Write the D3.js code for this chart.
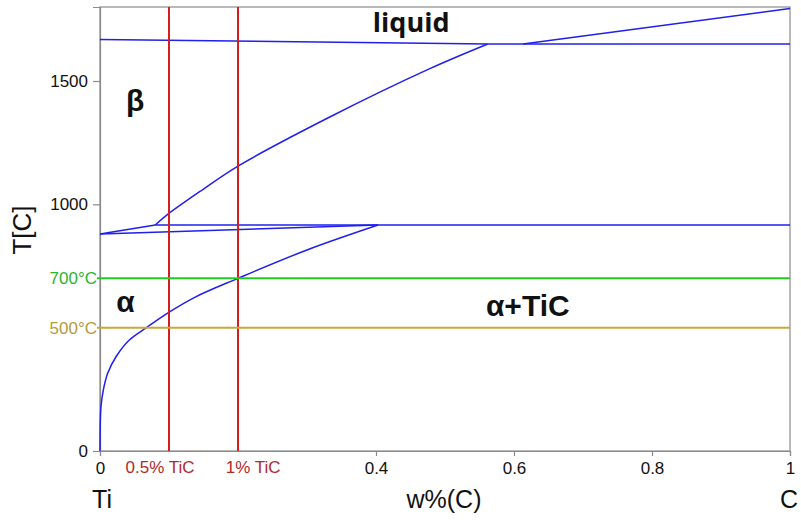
<!DOCTYPE html>
<html>
<head>
<meta charset="utf-8">
<script src="https://cdn.jsdelivr.net/npm/d3@7"></script>
<style>
  body { margin: 0; background: #fff; }
  svg { display: block; }
  .axis text { font-family: "Liberation Sans", Arial, sans-serif; font-size: 17px; fill: #111; }
  .axis path, .axis line { stroke: #8a8a8a; stroke-width: 1.2; }
</style>
</head>
<body>
<svg id="chart"></svg>
<script>
const w = 801;
const h = 521;
const margin = {top: 7, right: 11, bottom: 70, left: 100};

// axis ticks
const tempTicks = [0, 1000, 1500];
const compTicks = [0, 0.4, 0.6, 0.8, 1];

// reference temperatures
const refTemps = [700, 500];
const refTempLabels = ["700°C", "500°C"];

// carbon contents of the alloys (0.5% and 1% TiC)
const alloyC = [0.1, 0.2];
const alloyLabels = ["0.5% TiC", "1% TiC"];
const alloyLabelC = [0.087, 0.222];

// phase boundaries, [w%(C), T]
const liquidusLeft = [[0, 1668], [0.562, 1650]];
const eutecticLine = [[0.562, 1650], [1, 1650]];
const liquidusRight = [[0.613, 1650], [1, 1794]];
const betaTransus = [[0.08, 916], [0.099, 961], [0.148, 1058], [0.2, 1155], [0.333, 1354], [0.478, 1550], [0.562, 1650]];
const eutectoidLine = [[0.08, 916], [1, 916]];
const betaSolvus = [[0, 880], [0.08, 916]];
const alphaTransus = [[0, 880], [0.403, 916]];
const alphaSolvus = [[0, 0], [0.0005, 126], [0.0014, 180], [0.0048, 247], [0.0111, 315], [0.0232, 382], [0.0425, 450], [0.0667, 499], [0.098, 559], [0.138, 624], [0.2, 700], [0.3, 815], [0.403, 916]];

// region names
const regionNames = ["liquid", "β", "α", "α+TiC"];
const regionC = [0.451, 0.051, 0.037, 0.62];
const regionT = [1698, 1378, 563, 547];

const svg = d3.select("#chart")
    .attr("width", w)
    .attr("height", h);

const x = d3.scaleLinear()
    .domain([0, 1])
    .range([margin.left, w - margin.right]);

const y = d3.scaleLinear()
    .domain([0, 1800])
    .range([h - margin.bottom, margin.top]);

//Frame
svg.append("rect")
    .attr("x", x(0))
    .attr("y", y(1800))
    .attr("width", x(1) - x(0))
    .attr("height", y(0) - y(1800))
    .attr("fill", "none")
    .attr("stroke", "#8a8a8a")
    .attr("stroke-width", 1.2);

//Axes
const yAxis = d3.axisLeft(y)
    .tickValues(tempTicks)
    .tickSize(7)
    .tickPadding(5)
    .tickFormat(d3.format("d"));

svg.append("g")
    .attr("class", "axis")
    .attr("transform", `translate(${x(0)},0)`)
    .call(yAxis);

const xAxis = d3.axisBottom(x)
    .tickValues(compTicks)
    .tickSize(5)
    .tickPadding(6)
    .tickFormat(d => d === 0 || d === 1 ? d : d3.format(".1f")(d));

svg.append("g")
    .attr("class", "axis")
    .attr("transform", `translate(0,${y(0)})`)
    .call(xAxis);

//Phase boundaries
const line = d3.line()
    .x(d => x(d[0]))
    .y(d => y(d[1]));

const smooth = d3.line()
    .x(d => x(d[0]))
    .y(d => y(d[1]))
    .curve(d3.curveCatmullRom.alpha(0.5));

[liquidusLeft, eutecticLine, liquidusRight, eutectoidLine, betaSolvus, alphaTransus].forEach(pts => {
    svg.append("path")
        .attr("d", line(pts))
        .attr("fill", "none")
        .attr("stroke", "#1f1fee")
        .attr("stroke-width", 1.5);
});

[betaTransus, alphaSolvus].forEach(pts => {
    svg.append("path")
        .attr("d", smooth(pts))
        .attr("fill", "none")
        .attr("stroke", "#1f1fee")
        .attr("stroke-width", 1.5);
});

//Alloy lines
svg.selectAll(".alloy")
    .data(alloyC)
    .enter()
    .append("line")
    .attr("class", "alloy")
    .attr("x1", d => x(d))
    .attr("x2", d => x(d))
    .attr("y1", y(0))
    .attr("y2", y(1800))
    .attr("stroke", "#d41e1e")
    .attr("stroke-width", 2);

svg.selectAll(".alloyLabel")
    .data(alloyLabels)
    .enter()
    .append("text")
    .attr("class", "alloyLabel")
    .attr("x", (d, i) => x(alloyLabelC[i]))
    .attr("y", y(0) + 22)
    .attr("text-anchor", "middle")
    .style("font-family", "Liberation Sans, Arial, sans-serif")
    .style("font-size", "17px")
    .style("fill", "#b02a2a")
    .text(d => d);

//Reference temperatures
const refColors = ["#22cc22", "#c9a73a"];
const refTextColors = ["#2db32d", "#b59a3c"];

svg.selectAll(".ref")
    .data(refTemps)
    .enter()
    .append("line")
    .attr("class", "ref")
    .attr("x1", x(0) - 3)
    .attr("x2", x(1))
    .attr("y1", d => y(d))
    .attr("y2", d => y(d))
    .attr("stroke", (d, i) => refColors[i])
    .attr("stroke-width", 2);

svg.selectAll(".refLabel")
    .data(refTemps)
    .enter()
    .append("text")
    .attr("class", "refLabel")
    .attr("x", x(0) - 3)
    .attr("y", d => y(d))
    .attr("dy", "0.35em")
    .attr("text-anchor", "end")
    .style("font-family", "Liberation Sans, Arial, sans-serif")
    .style("font-size", "17px")
    .style("fill", (d, i) => refTextColors[i])
    .text((d, i) => refTempLabels[i]);

//Region names
svg.selectAll(".region")
    .data(regionNames)
    .enter()
    .append("text")
    .attr("class", "region")
    .attr("x", (d, i) => x(regionC[i]))
    .attr("y", (d, i) => y(regionT[i]))
    .attr("text-anchor", "middle")
    .style("font-family", (d, i) => i === 0 ? "Open Sans, sans-serif" : "Liberation Sans, Arial, sans-serif")
    .style("font-weight", "bold")
    .style("font-size", (d, i) => i === 0 ? "27px" : "30px")
    .style("fill", "#111")
    .text(d => d);

//Axis titles
svg.append("text")
    .attr("transform", `translate(31,230) rotate(-90)`)
    .attr("text-anchor", "middle")
    .style("font-family", "Liberation Sans, Arial, sans-serif")
    .style("font-size", "26px")
    .style("fill", "#111")
    .text("T[C]");

svg.append("text")
    .attr("x", x(0) + 2)
    .attr("y", 508)
    .attr("text-anchor", "middle")
    .style("font-family", "Liberation Sans, Arial, sans-serif")
    .style("font-size", "25px")
    .style("fill", "#111")
    .text("Ti");

svg.append("text")
    .attr("x", 444)
    .attr("y", 508)
    .attr("text-anchor", "middle")
    .style("font-family", "Liberation Sans, Arial, sans-serif")
    .style("font-size", "25px")
    .style("fill", "#111")
    .text("w%(C)");

svg.append("text")
    .attr("x", x(1) - 1)
    .attr("y", 508)
    .attr("text-anchor", "middle")
    .style("font-family", "Liberation Sans, Arial, sans-serif")
    .style("font-size", "25px")
    .style("fill", "#111")
    .text("C");
</script>
</body>
</html>
